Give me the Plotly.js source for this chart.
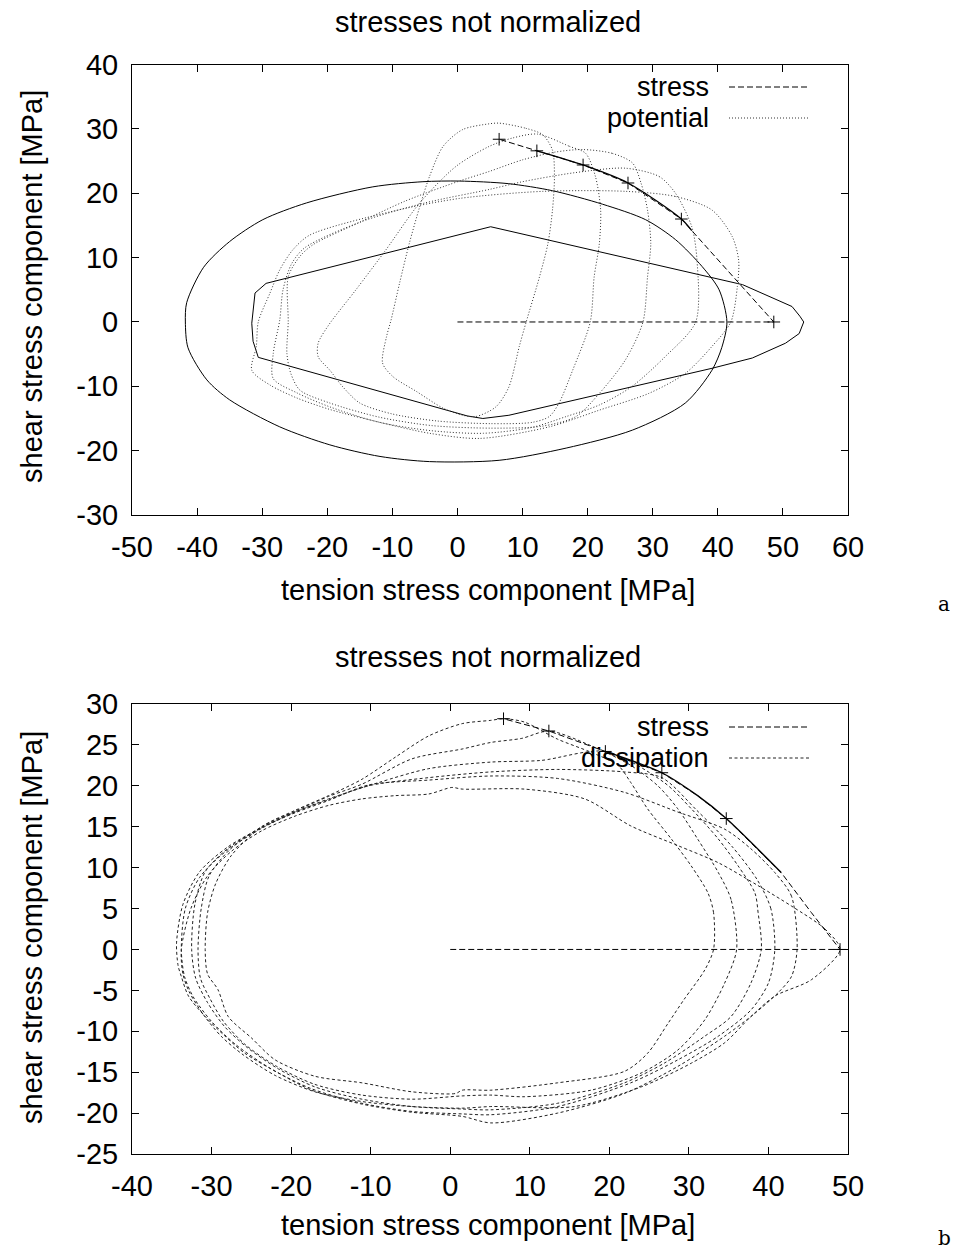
<!DOCTYPE html>
<html><head><meta charset="utf-8">
<script src="https://cdn.plot.ly/plotly-3.0.1.min.js"></script>
<style>html,body{margin:0;padding:0;background:#fff}#chart{width:961px;height:1249px}</style>
</head><body><div id="chart"></div>
<script>
// ---------- top panel (a): stress path, yield surfaces, potential ----------
const topStressX = [0, 48.6, 34.4, 26.2, 19.3, 12.2, 6.4];
const topStressY = [0, 0, 16.0, 21.6, 24.4, 26.6, 28.4];
const topMarkX = [48.6, 34.4, 26.2, 19.3, 12.2, 6.4];
const topMarkY = [0, 16.0, 21.6, 24.4, 26.6, 28.4];
const topSolidX = [36.0, 34.4, 26.2, 19.3, 12.2];
const topSolidY = [14.2, 16.0, 21.6, 24.4, 26.6];

const ellX = [41.4, 40.2, 37.6, 33.5, 28.9, 22.3, 14.6, 7.8, 0.3, -5.3, -13.0, -23.2, -29.9, -35.0, -39.0, -41.6, -41.8, -41.4, -38.5, -35.0, -27.3, -19.6, -11.9, -4.3, 6.4, 16.7, 26.9, 35.0, 39.1, 40.6, 41.4];
const ellY = [0, 5.0, 8.6, 12.8, 15.9, 18.3, 20.4, 21.5, 21.9, 21.8, 21.0, 18.5, 15.9, 12.5, 8.5, 3.0, 0, -4.0, -9.0, -12.1, -16.3, -19.1, -20.9, -21.7, -21.5, -19.6, -16.8, -12.6, -7.5, -4.0, 0];

const hexX = [-29.4, 5.1, 43.8, 47.9, 51.4, 52.6, 53.2, 52.5, 50.4, 45.3, 39.1, 7.9, 3.9, 1.5, -30.6, -31.4, -31.6, -31.1, -29.4];
const hexY = [6.0, 14.8, 5.8, 3.9, 2.4, 0.9, 0.0, -1.8, -3.3, -5.6, -7.2, -14.5, -15.0, -14.6, -5.5, -3.0, -0.2, 4.5, 6.0];

const pot1X = [6.4, 10.5, 13.1, 14.6, 14.9, 14.6, 13.9, 12.6, 10.5, 9.5, 7.9, 5.9, 2.8, 0.8, -2.2, -6.3, -9.9, -11.5, -10.9, -10.2, -8.9, -7.4, -5.8, -4.3, -2.2, 0.8, 4.9, 6.4];
const pot1Y = [30.9, 30.1, 29.1, 26.7, 22.6, 17.4, 12.2, 7.0, -0.2, -3.8, -10.1, -13.2, -14.7, -14.5, -13.4, -10.8, -8.5, -6.4, -2.3, 0.3, 6.0, 12.2, 17.9, 22.6, 27.3, 29.9, 30.8, 30.9];
const pot2X = [12.3, 17.2, 19.7, 21.2, 22.0, 21.8, 21.0, 20.4, 17.7, 15.6, 14.1, 11.5, 5.0, -3.0, -10.0, -15.0, -17.6, -19.6, -21.4, -21.4, -19.8, -15.6, -11.0, -5.8, -0.2, 4.9, 8.5, 12.3];
const pot2Y = [29.2, 27.3, 26.2, 22.6, 17.4, 12.2, 7.0, 0.0, -7.5, -12.6, -14.7, -15.6, -15.8, -15.4, -14.3, -12.6, -10.1, -7.5, -5.4, -3.3, -0.5, 5.0, 11.2, 18.5, 24.2, 27.3, 28.6, 29.2];
const pot3X = [19.2, 23.8, 26.9, 28.2, 29.2, 29.7, 29.2, 28.5, 25.8, 21.8, 18.2, 13.0, 5.0, -4.0, -12.0, -19.6, -24.2, -25.6, -26.2, -26.0, -26.0, -24.2, -22.2, -15.0, -8.0, 0.0, 4.9, 10.0, 15.0, 19.2];
const pot3Y = [26.8, 26.2, 24.7, 21.6, 17.4, 12.2, 7.0, 0.0, -5.9, -11.1, -14.7, -16.2, -16.5, -16.1, -14.8, -12.6, -10.6, -8.0, -4.9, 0.0, 7.0, 10.2, 12.0, 15.5, 18.8, 21.8, 23.4, 25.2, 26.4, 26.8];
const pot4X = [25.8, 31.0, 33.5, 36.0, 36.8, 36.6, 31.9, 26.7, 21.8, 16.7, 11.4, 4.0, -4.0, -12.0, -19.6, -24.7, -28.3, -28.3, -27.3, -26.8, -25.5, -23.5, -15.0, -5.0, 4.9, 10.0, 18.0, 25.8];
const pot4Y = [23.9, 22.6, 20.0, 14.8, 9.6, 0.0, -5.4, -10.1, -12.9, -14.7, -16.4, -17.3, -16.9, -15.6, -13.2, -11.0, -8.8, -4.9, 0.3, 5.0, 9.0, 11.5, 15.5, 18.5, 20.6, 21.8, 23.2, 23.9];
const pot5X = [25.9, 33.5, 39.1, 42.2, 43.2, 43.0, 42.0, 39.1, 35.0, 29.4, 21.8, 14.1, 3.4, -4.3, -11.9, -19.6, -24.7, -28.8, -31.6, -30.9, -30.6, -28.8, -27.3, -25.3, -22.7, -10.0, 0.3, 13.1, 25.9];
const pot5Y = [20.3, 19.5, 17.4, 13.3, 9.6, 5.5, 0.0, -3.8, -8.0, -11.1, -13.7, -16.3, -18.1, -17.3, -15.6, -13.6, -11.8, -9.8, -7.5, -3.8, 0.0, 4.5, 8.1, 11.2, 13.5, 17.2, 19.2, 20.3, 20.3];

// ---------- bottom panel (b): stress path and dissipation ----------
const botStressX = [0, 49.0, 45.4, 41.6, 34.7, 31.1, 26.6, 19.5, 12.4, 6.7];
const botStressY = [0, 0, 4.5, 9.4, 16.0, 18.8, 21.6, 24.2, 26.7, 28.2];
const botMarkX = [49.0, 34.7, 26.6, 19.5, 12.4, 6.7];
const botMarkY = [0, 16.0, 21.6, 24.2, 26.7, 28.2];
const botSolidX = [41.6, 34.7, 31.1, 26.6, 19.5];
const botSolidY = [9.4, 16.0, 18.8, 21.6, 24.2];

const dis1X = [33.1, 33.1, 32.4, 30.3, 27.8, 24.8, 22.7, 21.1, 17.7, 13.5, 9.3, 6.7, 5.1, 1.5, -2.7, -6.9, -11.1, -15.3, -19.5, -23.7, -27.5, -29.5, -30.5, -30.8, -30.5, -29.2, -27.9, -25.0, -22.0, -17.0, -11.1, -4.8, 0.7, 1.5, 5.1, 13.5, 21.9, 24.8, 27.4, 29.4, 32.0, 33.1];
const dis1Y = [0, 4.5, 6.9, 10.2, 13.5, 17.2, 20.4, 22.5, 24.1, 25.7, 27.8, 28.2, 28.0, 27.6, 26.1, 23.5, 20.8, 18.8, 17.0, 15.0, 11.5, 8.0, 4.5, 0, -3.0, -4.9, -8.2, -10.8, -13.5, -15.5, -16.3, -17.4, -17.6, -17.2, -17.2, -16.3, -14.9, -12.7, -9.0, -6.1, -2.5, 0];
const dis2X = [36.0, 35.3, 33.7, 31.1, 28.6, 26.1, 22.7, 17.7, 12.4, 9.0, 5.1, 1.5, -4.8, -11.1, -15.3, -19.5, -23.7, -27.7, -30.3, -31.3, -31.7, -31.4, -30.2, -28.5, -25.8, -21.8, -17.0, -11.1, -4.8, 1.5, 5.1, 9.3, 17.7, 24.0, 28.6, 32.0, 34.5, 36.0];
const dis2Y = [0, 6.1, 9.4, 13.5, 17.2, 20.0, 22.5, 24.9, 26.7, 25.8, 25.3, 24.5, 23.3, 20.2, 18.7, 16.9, 15.0, 12.2, 9.0, 5.0, 0, -3.5, -6.0, -8.8, -11.6, -14.3, -16.5, -17.8, -18.3, -17.9, -17.8, -18.0, -17.2, -15.1, -12.3, -8.6, -4.1, 0];
const dis3X = [39.1, 38.7, 38.3, 36.2, 33.7, 30.3, 26.9, 19.5, 11.4, 5.1, -2.7, -9.0, -15.3, -19.5, -23.7, -28.0, -30.8, -32.1, -32.5, -32.0, -30.5, -28.3, -25.5, -21.6, -17.0, -11.1, -4.8, 1.5, 5.1, 13.5, 21.9, 26.9, 32.0, 35.3, 37.8, 39.1];
const dis3Y = [0, 4.5, 6.9, 10.2, 13.5, 17.2, 20.4, 24.2, 23.1, 22.9, 22.1, 20.4, 18.4, 16.8, 14.9, 12.3, 9.5, 5.5, 0, -3.5, -6.5, -9.5, -12.0, -14.6, -16.8, -18.3, -19.2, -19.5, -19.6, -18.8, -16.3, -13.9, -10.6, -8.2, -4.1, 0];
const dis4X = [40.8, 40.3, 38.6, 35.5, 31.0, 26.6, 21.9, 13.5, 5.1, -2.7, -10.3, -15.3, -19.5, -23.7, -28.2, -31.5, -33.3, -33.8, -33.4, -32.3, -30.0, -27.0, -22.5, -17.5, -11.1, -4.8, 1.5, 5.1, 13.5, 22.7, 28.6, 33.7, 37.8, 40.0, 40.8];
const dis4Y = [0, 5.0, 8.5, 12.5, 17.0, 21.0, 21.7, 22.0, 21.7, 21.0, 20.0, 18.3, 16.8, 14.8, 12.0, 8.8, 5.0, 0, -3.3, -5.8, -8.8, -11.6, -14.6, -17.0, -18.8, -19.8, -20.1, -20.2, -19.2, -16.3, -13.5, -10.6, -7.4, -4.1, 0];
const dis5X = [43.6, 42.9, 40.8, 37.8, 34.5, 28.6, 21.9, 13.5, 5.1, -2.7, -10.3, -15.3, -19.5, -23.7, -28.0, -31.5, -33.6, -34.4, -34.2, -33.8, -32.9, -30.8, -28.3, -25.8, -21.6, -17.4, -11.1, -4.8, 1.5, 5.1, 13.5, 21.9, 28.6, 34.5, 38.3, 41.2, 42.9, 43.6];
const dis5Y = [0, 6.5, 9.4, 12.3, 14.7, 16.8, 19.2, 20.9, 21.2, 20.7, 20.1, 18.2, 16.7, 14.9, 12.5, 9.5, 5.5, 0.8, -2.0, -3.3, -5.7, -8.2, -10.6, -12.7, -15.1, -17.2, -18.9, -19.9, -20.4, -21.2, -20.0, -17.6, -14.3, -10.6, -7.8, -5.3, -3.3, 0];
const dis6X = [49.0, 47.1, 42.9, 38.7, 33.7, 28.6, 22.7, 16.9, 9.3, 1.5, 0.2, -2.7, -6.9, -11.1, -15.3, -19.5, -23.7, -27.5, -30.5, -32.6, -33.8, -33.6, -32.8, -31.0, -28.8, -26.0, -22.0, -17.0, -11.0, -4.8, 1.5, 5.1, 15.6, 24.0, 30.3, 34.5, 37.8, 40.8, 45.4, 49.0];
const dis6Y = [0, 2.5, 5.3, 7.8, 10.6, 12.7, 15.1, 18.4, 19.6, 19.6, 19.8, 19.0, 18.8, 18.4, 17.6, 16.3, 14.5, 12.0, 9.0, 5.0, 0.0, -3.0, -5.2, -8.0, -10.6, -12.9, -15.4, -17.4, -18.6, -19.2, -19.4, -19.2, -19.2, -16.8, -13.9, -11.4, -8.2, -5.7, -3.7, 0];

// ---------- axis ticks ----------
const topXTicks = [-50, -40, -30, -20, -10, 0, 10, 20, 30, 40, 50, 60];
const topYTicks = [-30, -20, -10, 0, 10, 20, 30, 40];
const botXTicks = [-40, -30, -20, -10, 0, 10, 20, 30, 40, 50];
const botYTicks = [-25, -20, -15, -10, -5, 0, 5, 10, 15, 20, 25, 30];
const lab = a => a.map(v => String(v));

const FONT = 'Liberation Sans, Arial, Helvetica, sans-serif';
const FS = 29;
const W = 961, H = 1249;
const px = v => v / W, py = v => 1 - v / H;

const STRESS_DASH = '6px,3px';
const POT_DOT = '1px,2px';
const DIS_DASH = '3px,2.5px';

function line(x, y, xa, ya, dash, color, width, shape) {
  return {type: 'scatter', mode: 'lines', x, y, xaxis: xa, yaxis: ya, showlegend: false,
    hoverinfo: 'skip', line: {color, width, dash, shape: shape || 'linear', smoothing: 0.8}};
}
function marks(x, y, xa, ya) {
  return {type: 'scatter', mode: 'markers', x, y, xaxis: xa, yaxis: ya, showlegend: false,
    hoverinfo: 'skip', marker: {symbol: 'cross-thin', size: 9, color: 'black', line: {width: 1, color: 'black'}}};
}

const traces = [
  line(ellX, ellY, 'x', 'y', 'solid', '#000', 1, 'spline'),
  line(hexX, hexY, 'x', 'y', 'solid', '#000', 1),
  line(pot1X, pot1Y, 'x', 'y', POT_DOT, '#333', 1, 'spline'),
  line(pot2X, pot2Y, 'x', 'y', POT_DOT, '#333', 1, 'spline'),
  line(pot3X, pot3Y, 'x', 'y', POT_DOT, '#333', 1, 'spline'),
  line(pot4X, pot4Y, 'x', 'y', POT_DOT, '#333', 1, 'spline'),
  line(pot5X, pot5Y, 'x', 'y', POT_DOT, '#333', 1, 'spline'),
  line(topStressX, topStressY, 'x', 'y', STRESS_DASH, '#000', 1),
  line(topSolidX, topSolidY, 'x', 'y', 'solid', '#000', 1.3, 'spline'),
  marks(topMarkX, topMarkY, 'x', 'y'),

  line(dis1X, dis1Y, 'x2', 'y2', DIS_DASH, '#222', 1, 'spline'),
  line(dis2X, dis2Y, 'x2', 'y2', DIS_DASH, '#222', 1, 'spline'),
  line(dis3X, dis3Y, 'x2', 'y2', DIS_DASH, '#222', 1, 'spline'),
  line(dis4X, dis4Y, 'x2', 'y2', DIS_DASH, '#222', 1, 'spline'),
  line(dis5X, dis5Y, 'x2', 'y2', DIS_DASH, '#222', 1, 'spline'),
  line(dis6X, dis6Y, 'x2', 'y2', DIS_DASH, '#222', 1, 'spline'),
  line(botStressX, botStressY, 'x2', 'y2', STRESS_DASH, '#000', 1),
  line(botSolidX, botSolidY, 'x2', 'y2', 'solid', '#000', 1.3, 'spline'),
  marks(botMarkX, botMarkY, 'x2', 'y2')
];

function axis(domain, anchor, range, ticks, extra) {
  return Object.assign({domain, anchor, range, tickmode: 'array', tickvals: ticks, ticktext: lab(ticks),
    ticks: 'inside', ticklen: 7, tickwidth: 1, tickcolor: '#000', mirror: 'ticks', showline: true,
    linecolor: '#000', linewidth: 1, showgrid: false, zeroline: false, fixedrange: true,
    tickfont: {family: FONT, size: FS, color: '#000'}}, extra);
}

const XD = [px(132), px(848)];
const layout = {
  width: W, height: H, margin: {l: 0, r: 0, t: 0, b: 0}, paper_bgcolor: '#fff', plot_bgcolor: '#fff',
  showlegend: false, hovermode: false,
  xaxis: axis(XD, 'y', [-50, 60], topXTicks, {ticklabelstandoff: 6}),
  yaxis: axis([py(515), py(64.6)], 'x', [-30, 40], topYTicks, {ticklabelstandoff: 7}),
  xaxis2: axis(XD, 'y2', [-40, 50], botXTicks, {ticklabelstandoff: 6}),
  yaxis2: axis([py(1154), py(704)], 'x2', [-25, 30], botYTicks, {ticklabelstandoff: 7}),
  annotations: [], shapes: []
};

function txt(text, x, y, opts) {
  layout.annotations.push(Object.assign({text, x: px(x), y: py(y), xref: 'paper', yref: 'paper',
    showarrow: false, xanchor: 'center', yanchor: 'middle',
    font: {family: FONT, size: FS, color: '#000'}}, opts || {}));
}
// titles
txt('stresses not normalized', 488, 22);
txt('tension stress component [MPa]', 488, 590);
txt('shear stress component [MPa]', 32, 287, {textangle: -90});
txt('stresses not normalized', 488, 657);
txt('tension stress component [MPa]', 488, 1225);
txt('shear stress component [MPa]', 32, 928, {textangle: -90});
txt('a', 944, 604, {font: {family: 'DejaVu Serif, Liberation Serif, serif', size: 20, color: '#000'}});
txt('b', 944, 1238, {font: {family: 'DejaVu Serif, Liberation Serif, serif', size: 20, color: '#000'}});

// key (gnuplot style: label then line sample)
function key(label, y, dash, color) {
  txt(label, 711, y, {xanchor: 'right', font: {family: FONT, size: 27, color: '#000'}});
  layout.shapes.push({type: 'line', xref: 'paper', yref: 'paper', x0: px(729), x1: px(810), y0: py(y), y1: py(y),
    line: {color, width: 1, dash}});
}
key('stress', 87, STRESS_DASH, '#000');
key('potential', 118, POT_DOT, '#333');
key('stress', 727, STRESS_DASH, '#000');
key('dissipation', 758, DIS_DASH, '#222');

Plotly.newPlot('chart', traces, layout, {staticPlot: true, displayModeBar: false});
</script></body></html>
